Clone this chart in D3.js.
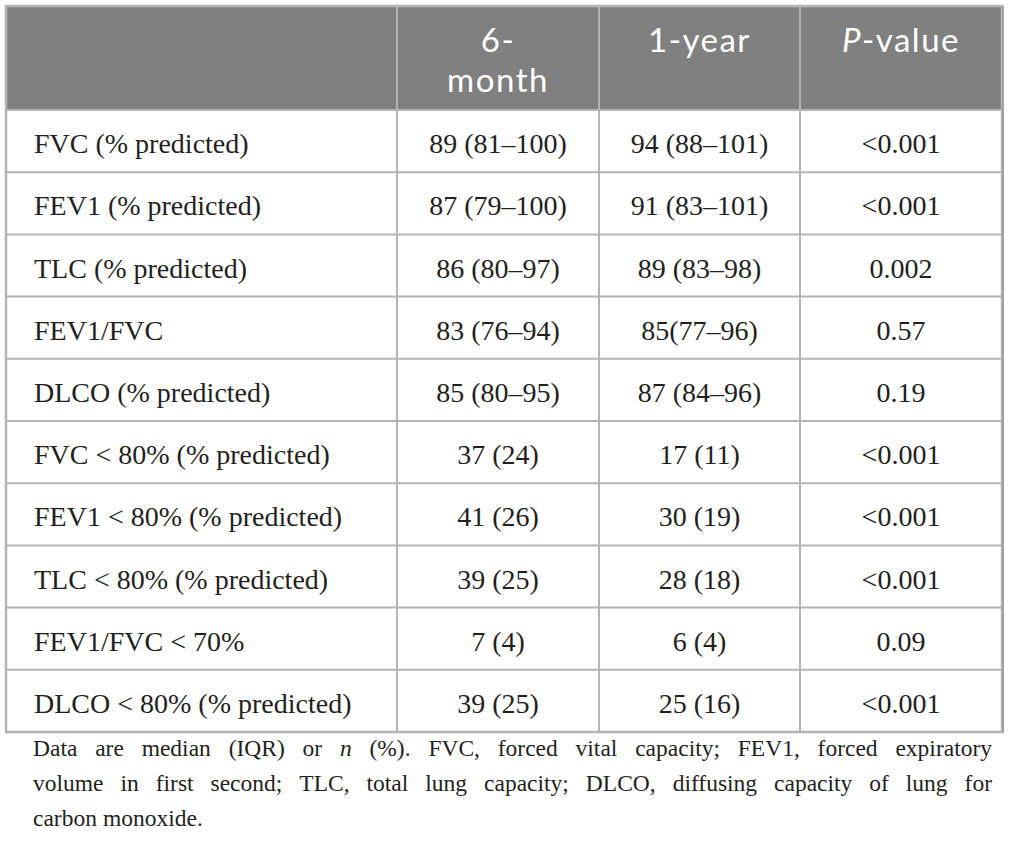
<!DOCTYPE html>
<html>
<head>
<meta charset="utf-8">
<script src="https://cdn.jsdelivr.net/npm/d3@7"></script>
<style>
  body { margin: 0; background: #fff; }
</style>
</head>
<body>
<div id="table"></div>
<script>
// table content
var headers = [["", ""], ["6-", "month"], ["1-year", ""], ["P-value", ""]];
var rowLabels = [
  "FVC (% predicted)", "FEV1 (% predicted)", "TLC (% predicted)", "FEV1/FVC",
  "DLCO (% predicted)", "FVC < 80% (% predicted)", "FEV1 < 80% (% predicted)",
  "TLC < 80% (% predicted)", "FEV1/FVC < 70%", "DLCO < 80% (% predicted)"
];
var sixMonth = ["89 (81–100)", "87 (79–100)", "86 (80–97)", "83 (76–94)", "85 (80–95)",
  "37 (24)", "41 (26)", "39 (25)", "7 (4)", "39 (25)"];
var oneYear = ["94 (88–101)", "91 (83–101)", "89 (83–98)", "85(77–96)", "87 (84–96)",
  "17 (11)", "30 (19)", "28 (18)", "6 (4)", "25 (16)"];
var pValues = ["<0.001", "<0.001", "0.002", "0.57", "0.19",
  "<0.001", "<0.001", "<0.001", "0.09", "<0.001"];
var footLines = [
  "Data are median (IQR) or _n_ (%). FVC, forced vital capacity; FEV1, forced expiratory",
  "volume in first second; TLC, total lung capacity; DLCO, diffusing capacity of lung for",
  "carbon monoxide."
];

// layout
var svgWidth = 1010, svgHeight = 855;
var colEdges = [6, 397, 599, 800, 1002];
var tableTop = 6, headBottom = 110, tableBottom = 732;
var gridColor = "#b4b4b4";
var serif = "'Liberation Serif', 'DejaVu Serif', serif";
var sans = "Lato, 'Open Sans', sans-serif";

var svg = d3.select("#table")
  .append("svg")
  .attr("width", svgWidth)
  .attr("height", svgHeight);

var y = d3.scaleBand()
  .domain(d3.range(rowLabels.length))
  .range([headBottom, tableBottom]);

var colMid = d3.range(4).map(i => (colEdges[i] + colEdges[i + 1]) / 2);

// header background
svg.append("rect")
  .attr("x", colEdges[0]).attr("y", tableTop)
  .attr("width", colEdges[4] - colEdges[0])
  .attr("height", headBottom - tableTop)
  .attr("fill", "#808080");

// header text (one text per cell, lines as tspans)
headers.forEach(function(h, i) {
  var t = svg.append("text")
    .attr("x", colMid[i])
    .attr("y", 52)
    .attr("text-anchor", "middle")
    .attr("font-family", sans)
    .attr("font-size", "33px")
    .attr("letter-spacing", "1.5px")
    .attr("fill", "#fff");
  h.forEach(function(line, j) {
    if (!line) return;
    if (line.indexOf("P-") === 0) {
      t.append("tspan").attr("x", colMid[i]).attr("font-style", "italic").text("P");
      t.append("tspan").text(line.slice(1));
    } else {
      t.append("tspan")
        .attr("x", colMid[i])
        .attr("dy", j === 0 ? 0 : 40)
        .text(line);
    }
  });
});

// body rows
var rows = svg.selectAll(".row")
  .data(d3.range(rowLabels.length))
  .enter()
  .append("g")
  .attr("class", "row")
  .attr("transform", d => `translate(0, ${y(d) + y.bandwidth() / 2})`);

function cellText(sel, x, anchor, accessor) {
  sel.append("text")
    .attr("x", x)
    .attr("y", 12)
    .attr("text-anchor", anchor)
    .attr("font-family", serif)
    .attr("font-size", "28px")
    .attr("fill", "#231f20")
    .text(accessor);
}
cellText(rows, 34, "start", d => rowLabels[d]);
cellText(rows, colMid[1], "middle", d => sixMonth[d]);
cellText(rows, colMid[2], "middle", d => oneYear[d]);
cellText(rows, colMid[3], "middle", d => pValues[d]);

// grid lines
var grid = svg.append("g")
  .attr("stroke", gridColor)
  .attr("stroke-width", 2);

grid.selectAll(".hline")
  .data(d3.range(1, rowLabels.length))
  .enter()
  .append("line")
  .attr("x1", colEdges[0]).attr("x2", colEdges[4])
  .attr("y1", d => y(d)).attr("y2", d => y(d));

grid.append("line")
  .attr("x1", colEdges[0]).attr("x2", colEdges[4])
  .attr("y1", headBottom).attr("y2", headBottom);

grid.selectAll(".vline")
  .data([1, 2, 3])
  .enter()
  .append("line")
  .attr("x1", d => colEdges[d]).attr("x2", d => colEdges[d])
  .attr("y1", tableTop).attr("y2", tableBottom);

// outer border
svg.append("rect")
  .attr("x", colEdges[0]).attr("y", tableTop)
  .attr("width", colEdges[4] - colEdges[0])
  .attr("height", tableBottom - tableTop)
  .attr("fill", "none")
  .attr("stroke", gridColor)
  .attr("stroke-width", 2.5);

svg.append("line")
  .attr("x1", colEdges[4] + 1).attr("x2", colEdges[4] + 1)
  .attr("y1", tableTop).attr("y2", tableBottom + 1)
  .attr("stroke", "#a0a0a0")
  .attr("stroke-width", 2);

// footnote, justified
var footLeft = 33, footRight = 992;
footLines.forEach(function(line, li) {
  var words = line.split(" ");
  var g = svg.append("g");
  var texts = words.map(function(w) {
    var t = g.append("text")
      .attr("y", 756 + li * 35)
      .attr("font-family", serif)
      .attr("font-size", "23.5px")
      .attr("fill", "#231f20");
    if (w.indexOf("_") === 0) {
      t.attr("font-style", "italic").text(w.replace(/_/g, ""));
    } else {
      t.text(w);
    }
    return t;
  });
  var widths = texts.map(t => t.node().getComputedTextLength());
  var total = d3.sum(widths);
  var last = li === footLines.length - 1;
  var gap = last ? 6 : (footRight - footLeft - total) / (words.length - 1);
  var x = footLeft;
  texts.forEach(function(t, i) {
    t.attr("x", x);
    x += widths[i] + gap;
  });
});
</script>
</body>
</html>
